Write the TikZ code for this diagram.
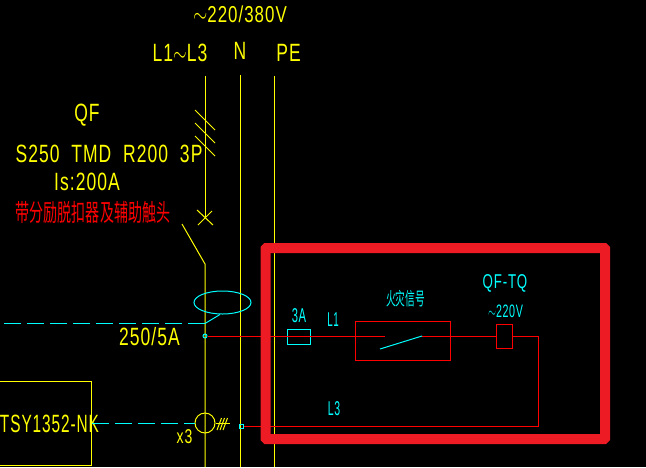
\documentclass[tikz,border=0pt]{standalone}
\usepackage{fontspec}
\setmainfont[LetterSpace=6]{Liberation Sans}
\newfontfamily\cjk{Noto Sans CJK SC}
\usepackage{tikz}
\usetikzlibrary{shapes.geometric}
\definecolor{cadyellow}{RGB}{255,255,0}
\definecolor{cadcyan}{RGB}{0,255,255}
\definecolor{cadred}{RGB}{255,0,0}
\definecolor{markred}{RGB}{237,28,36}
\tikzstyle{wire}=[line width=1pt]
\tikzstyle{bus}=[wire,cadyellow]
\tikzstyle{ctrl}=[wire,cadred]
\tikzstyle{signal}=[wire,cadcyan]
\tikzstyle{sigdash}=[signal,dash pattern=on 17pt off 6pt]
\tikzstyle{lab}=[inner sep=0,transform shape,xscale=.7]
\tikzstyle{ylab}=[lab,text=cadyellow,font=\fontsize{25}{25}\selectfont]
\tikzstyle{clab}=[lab,text=cadcyan,font=\fontsize{20}{20}\selectfont]
\tikzstyle{zh}=[inner sep=0,transform shape,font=\cjk\fontsize{24}{24}\selectfont]
\begin{document}
\begin{tikzpicture}[x=1pt,y=-1pt]
	\fill[black] (0,0) rectangle (646,467);
	\useasboundingbox (0,0) rectangle (646,467);
	% buses
	\coordinate (Ltop) at (205,76);
	\coordinate (Lbrk) at (205,218);
	\coordinate (Lhinge) at (205,264);
	\coordinate (Lend) at (205,467);
	\coordinate (Ntop) at (240.5,75);
	\coordinate (Nend) at (240.5,467);
	\coordinate (PEtop) at (274.5,76);
	\coordinate (PEend) at (274.5,467);
	\coordinate (blade) at (182,224);
	\draw[bus] (Ltop) -- (Lbrk);
	\draw[bus] (blade) -- (Lhinge) -- (Lend);
	\draw[bus] (Ntop) -- (Nend);
	\draw[bus] (PEtop) -- (PEend);
	\foreach \i in {110,123,136}
		\draw[bus] (195,\i) -- +(20,20);
	\draw[bus] (197,210) -- (213,225);
	\draw[bus] (198,225) -- (212,211);
	% yellow text
	\node[ylab,xscale=1.05,font=\fontsize{23}{23}\selectfont] (volt) at (240,14) {$\sim$220/380V};
	\node[ylab] (lines) at (180,53) {L1$\sim$L3};
	\node[ylab] (nname) at (240,51) {N};
	\node[ylab] (pename) at (288.5,53) {PE};
	\node[ylab] (qf) at (87,115) {QF};
	\node[ylab] (model) at (109,154) {S250 \ TMD \ R200 \ 3P};
	\node[ylab] (is) at (87,182) {Is:200A};
	\node[zh,xscale=.585,text=cadred] (aux) at (93,212) {带分励脱扣器及辅助触头};
	\node[ylab] (ratio) at (149.5,337) {250/5A};
	% current transformers
	\node[draw=cadcyan,wire,ellipse,minimum width=57pt,minimum height=23pt,inner sep=0] (ctop) at (222.5,302.5) {};
	\coordinate (ctail) at (205,323.5);
	\coordinate (cleft) at (4,323.5);
	\draw[signal] (ctail) -- (220,314.5);
	\draw[sigdash] (cleft) -- (ctail);
	\node[draw=cadyellow,wire,circle,minimum size=20pt,inner sep=0] (ct) at (205,423) {};
	\node[ylab,font=\fontsize{20}{20}\selectfont] (times) at (184.5,437) {x3};
	\draw[bus] (ct.east) -- +(14,0);
	\foreach \i in {217,220,223}
		\draw[bus] (\i,430) -- +(4.5,-12);
	% meter
	\node[draw=cadyellow,wire,minimum width=110pt,minimum height=84pt,inner sep=0] (meter) at (36.5,423) {};
	\node[ylab,xscale=.88] (tsy) at (49.5,424) {TSY1352-NK};
	\draw[sigdash] (meter.east |- ct.west) -- (ct.west);
	% control circuit
	\node[draw=cadcyan,circle,wire,minimum size=4pt,inner sep=0] (tapL) at (205,336) {};
	\node[draw=cadcyan,wire,minimum size=4pt,inner sep=0] (tapN) at (241,426) {};
	\node[draw=cadcyan,wire,minimum width=23pt,minimum height=15pt,inner sep=0] (fuse) at (298.5,336.5) {};
	\node[draw=cadred,wire,minimum width=95pt,minimum height=39pt,inner sep=0] (fire) at (402.5,340.5) {};
	\node[draw=cadred,wire,minimum width=16pt,minimum height=24pt,inner sep=0] (coil) at (504,336) {};
	\coordinate (conta) at (385,336);
	\coordinate (contb) at (422,336);
	\coordinate (contl) at (380,349);
	\coordinate (cornera) at (538,336);
	\coordinate (cornerb) at (538,426);
	\draw[ctrl] (tapL) -- (conta);
	\draw[ctrl] (contb) -- (coil.west);
	\draw[signal] (contl) -- (contb);
	\draw[ctrl] (coil.east) -- (cornera) -- (cornerb) -- (tapN);
	\node[clab,xscale=.8] (fusel) at (299,316) {3A};
	\node[clab,xscale=.7] (l1) at (333,320) {L1};
	\node[clab,xscale=.75] (l3) at (334,409) {L3};
	\node[zh,xscale=.54,text=cadcyan,font=\cjk\fontsize{18}{18}\selectfont] (firel) at (405.5,299) {火灾信号};
	\node[clab,xscale=.95] (qftq) at (505,283) {QF-TQ};
	\node[clab,xscale=.85,font=\fontsize{18}{18}\selectfont] (coilv) at (505.5,311.5) {$\sim$220V};
	% marking box
	\draw[markred,line width=10pt,rounded corners=1pt] (265.5,248) rectangle (605,439);
\end{tikzpicture}
\end{document}
